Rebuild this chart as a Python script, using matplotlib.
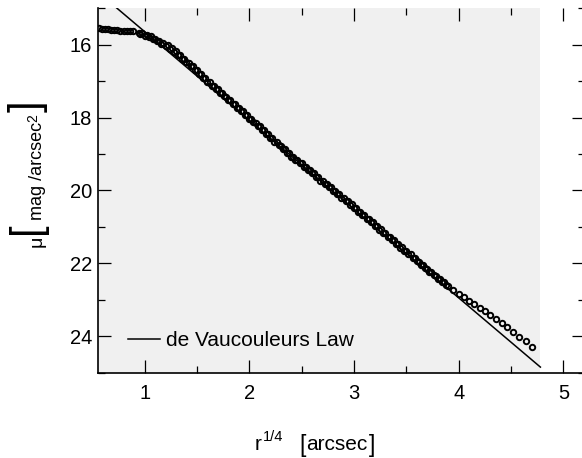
import matplotlib
matplotlib.use("Agg")
import matplotlib.pyplot as plt

plt.rcParams['font.family'] = ['Liberation Sans', 'DejaVu Sans']

# Surface brightness profile: r^(1/4) [arcsec] vs mu [mag/arcsec^2]
r_prof = [0.56, 0.59, 0.62, 0.65, 0.68, 0.71, 0.74, 0.77, 0.80, 0.83, 0.86, 0.89,
          0.945, 0.98, 1.02, 1.06, 1.10, 1.14, 1.18, 1.22, 1.26, 1.30, 1.34, 1.38,
          1.42, 1.46, 1.50, 1.54, 1.58, 1.62, 1.66, 1.70, 1.74, 1.78, 1.82, 1.86,
          1.90, 1.94, 1.98, 2.02, 2.06, 2.10, 2.14, 2.18, 2.22, 2.26, 2.30, 2.34,
          2.38, 2.42, 2.46, 2.50, 2.54, 2.58, 2.62, 2.66, 2.70, 2.74, 2.78, 2.82,
          2.86, 2.90, 2.94, 2.98, 3.02, 3.06, 3.10, 3.14, 3.18, 3.22, 3.26, 3.30,
          3.34, 3.38, 3.42, 3.46, 3.50, 3.54, 3.58, 3.62, 3.66, 3.70, 3.74, 3.78,
          3.82, 3.86, 3.90, 3.95, 4.00, 4.05, 4.10, 4.15, 4.20, 4.25, 4.30, 4.36,
          4.41, 4.46, 4.52, 4.58, 4.64, 4.70]
mu_prof = [15.55, 15.56, 15.57, 15.58, 15.59, 15.60, 15.60, 15.61, 15.61, 15.62, 15.62, 15.62,
           15.67, 15.69, 15.72, 15.77, 15.83, 15.89, 15.95, 16.02, 16.10, 16.18, 16.28, 16.38,
           16.49, 16.59, 16.70, 16.81, 16.92, 17.02, 17.12, 17.22, 17.32, 17.43, 17.53, 17.63,
           17.73, 17.83, 17.93, 18.03, 18.14, 18.24, 18.34, 18.45, 18.56, 18.66, 18.77, 18.87,
           18.97, 19.07, 19.16, 19.26, 19.35, 19.44, 19.53, 19.63, 19.73, 19.82, 19.91, 20.01,
           20.10, 20.20, 20.29, 20.38, 20.48, 20.58, 20.68, 20.78, 20.88, 20.98, 21.07, 21.17,
           21.27, 21.37, 21.47, 21.56, 21.66, 21.76, 21.86, 21.96, 22.06, 22.15, 22.25, 22.34,
           22.43, 22.52, 22.62, 22.74, 22.84, 22.94, 23.03, 23.12, 23.22, 23.32, 23.42, 23.54,
           23.65, 23.76, 23.88, 24.02, 24.14, 24.30]

# Second set of isophotes, interleaved with the first across the main body
r_prof2 = [0.96, 1.00, 1.04, 1.08, 1.12, 1.16, 1.20, 1.24, 1.28, 1.32, 1.36, 1.40,
           1.44, 1.48, 1.52, 1.56, 1.60, 1.64, 1.68, 1.72, 1.76, 1.80, 1.84, 1.88,
           1.92, 1.96, 2.00, 2.04, 2.08, 2.12, 2.16, 2.20, 2.24, 2.28, 2.32, 2.36,
           2.40, 2.44, 2.48, 2.52, 2.56, 2.60, 2.64, 2.68, 2.72, 2.76, 2.80, 2.84,
           2.88, 2.92, 2.96, 3.00, 3.04, 3.08, 3.12, 3.16, 3.20, 3.24, 3.28, 3.32,
           3.36, 3.40, 3.44, 3.48, 3.52, 3.56, 3.60, 3.64, 3.68, 3.72, 3.76, 3.80,
           3.84, 3.88]
mu_prof2 = [15.71, 15.75, 15.79, 15.85, 15.91, 15.97, 16.04, 16.11, 16.19, 16.28, 16.38, 16.48,
            16.59, 16.70, 16.81, 16.92, 17.02, 17.12, 17.22, 17.32, 17.42, 17.53, 17.63, 17.73,
            17.83, 17.93, 18.03, 18.13, 18.24, 18.34, 18.44, 18.55, 18.66, 18.76, 18.87, 18.97,
            19.07, 19.16, 19.26, 19.35, 19.44, 19.53, 19.63, 19.73, 19.82, 19.92, 20.01, 20.11,
            20.20, 20.30, 20.39, 20.49, 20.58, 20.68, 20.78, 20.88, 20.98, 21.08, 21.17, 21.27,
            21.37, 21.47, 21.57, 21.66, 21.76, 21.85, 21.95, 22.04, 22.14, 22.23, 22.32, 22.42,
            22.51, 22.60]

# de Vaucouleurs law fit: mu = mu_e + 8.3268 * (r^(1/4)/re^(1/4) - 1)
mu_e = 21.53
re_quarter = 3.417
r_fit = [0.70, 4.78]

x_ticks = [1, 2, 3, 4, 5]
y_ticks = [16, 18, 20, 22, 24]

W, H = 582, 458
fig = plt.figure(figsize=(W / 100, H / 100), dpi=100)


def fx(x):
    return x / W


def fy(y):
    return 1 - y / H


ax_left, ax_right, ax_top, ax_bot = 98.3, 585.0, 8.3, 372.5
ax = fig.add_axes([fx(ax_left), fy(ax_bot), (ax_right - ax_left) / W, (ax_bot - ax_top) / H])
ax.set_xlim(0.558, 5.206)
ax.set_ylim(24.85, 15.06)

# shaded data region
ax.axvspan(0.558, 4.78, color='#f0f0f0', zorder=0, lw=0)

mu_fit = [mu_e + 8.3268 * (r / re_quarter - 1) for r in r_fit]
ax.plot(r_fit, mu_fit, color='black', lw=1.1, zorder=3, label='de Vaucouleurs Law')
marker_kw = dict(linestyle='none', marker='o', markersize=3.9, markerfacecolor='none',
                 markeredgecolor='black', markeredgewidth=1.4, zorder=4)
ax.plot(r_prof, mu_prof, **marker_kw)
ax.plot(r_prof2, mu_prof2, **marker_kw)

for side in ['top', 'right']:
    ax.spines[side].set_visible(False)
for side in ['left', 'bottom']:
    ax.spines[side].set_linewidth(1.2)

ax.set_xticks(x_ticks)
ax.set_yticks(y_ticks)
ax.set_xticks([1.5, 2.5, 3.5, 4.5], minor=True)
ax.set_yticks([15, 17, 19, 21, 23, 25], minor=True)
ax.tick_params(which='both', direction='in', top=True, right=True, width=0.9, color='black')
ax.tick_params(which='major', length=9.5)
ax.tick_params(which='minor', length=4.7)
ax.tick_params(axis='x', which='major', pad=8.5, labelsize=14.5)
ax.tick_params(axis='y', which='major', pad=4.5, labelsize=14.5)

ax.legend(loc='center left', bbox_to_anchor=((128 - ax_left) / (ax_right - ax_left),
                                             (ax_bot - 341) / (ax_bot - ax_top)),
          frameon=False, borderpad=0, borderaxespad=0, handlelength=1.55,
          handletextpad=0.25, fontsize=15)

# x-axis label: r^(1/4) [arcsec]
fig.text(fx(255), fy(450), 'r', fontsize=15, ha='left', va='baseline')
fig.text(fx(262.5), fy(441), '1/4', fontsize=10.5, ha='left', va='baseline')
fig.text(fx(299), fy(452), '[', fontsize=16.5, ha='left', va='baseline')
fig.text(fx(306), fy(450), 'arcsec', fontsize=15, ha='left', va='baseline')
fig.text(fx(368.5), fy(452), ']', fontsize=16.5, ha='left', va='baseline')

# y-axis label: mu [mag/arcsec^2]
kw = dict(rotation=90, rotation_mode='anchor', ha='left', va='baseline')
fig.text(fx(42), fy(247.5), 'μ', fontsize=14, **kw)
fig.text(fx(38.5), fy(234), '[', fontsize=30, **kw)
fig.text(fx(42), fy(220), 'mag /arcsec', fontsize=13, **kw)
fig.text(fx(37.5), fy(121.5), '2', fontsize=10, **kw)
fig.text(fx(38.5), fy(112), ']', fontsize=30, **kw)

fig.savefig('out.png', dpi=100)
